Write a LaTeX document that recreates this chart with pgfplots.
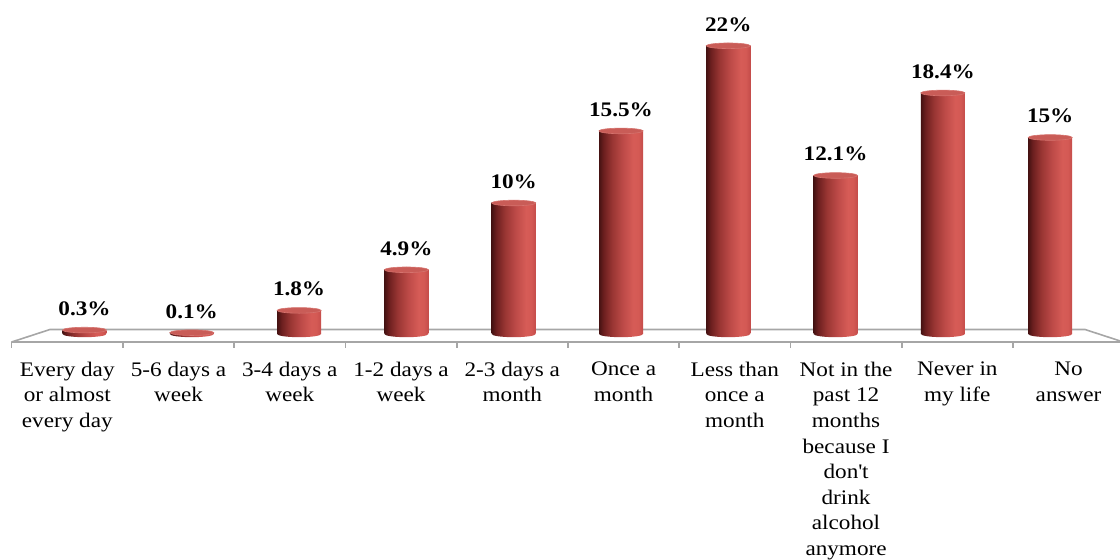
\documentclass[border=0pt]{standalone}
\usepackage{pgfplots}
\usepackage{pgfplotstable}
\pgfplotsset{compat=1.18}
\usepackage{fontspec}
\setmainfont{Liberation Serif}[FakeStretch=1.12]

\newcommand\labelfont{\fontsize{10.35pt}{12.8pt}\selectfont}

% cylinder colours, dark left edge to light right side
\definecolor{cylA}{rgb}{0.27,0.07,0.07}
\definecolor{cylB}{rgb}{0.42,0.12,0.12}
\definecolor{cylC}{rgb}{0.60,0.21,0.20}
\definecolor{cylD}{rgb}{0.74,0.29,0.28}
\definecolor{cylE}{rgb}{0.84,0.36,0.34}
\definecolor{cylF}{rgb}{0.83,0.35,0.33}
\definecolor{cylG}{rgb}{0.77,0.30,0.29}
\definecolor{capred}{rgb}{0.79,0.36,0.34}
\definecolor{capedge}{rgb}{0.84,0.45,0.43}
\definecolor{floorgray}{rgb}{0.65,0.65,0.65}

\pgfdeclarehorizontalshading{cylinder}{100bp}{%
  color(0bp)=(cylA); color(25bp)=(cylA); color(30bp)=(cylB);
  color(40bp)=(cylC); color(52bp)=(cylD); color(64bp)=(cylE);
  color(70bp)=(cylF); color(75bp)=(cylG); color(100bp)=(cylG)}

% top face of a cylinder
\pgfdeclareplotmark{cyltop}{%
  \pgfpathellipse{\pgfpointorigin}{\pgfqpoint{11pt}{0pt}}{\pgfqpoint{0pt}{1.4pt}}%
  \pgfusepathqfillstroke}
% rounded foot of a cylinder
\pgfdeclareplotmark{cylbase}{%
  \pgfpathellipse{\pgfpointorigin}{\pgfqpoint{11pt}{0pt}}{\pgfqpoint{0pt}{1.6pt}}%
  \pgfshadepath{cylinder}{0}\pgfusepath{discard}}

\pgfplotstableread{
x v
0 0.3
1 0.1
2 1.8
3 4.9
4 10
5 15.5
6 22
7 12.1
8 18.4
9 15
}\freqdata

\begin{document}
\begin{tikzpicture}
\begin{axis}[
  scale only axis, width=560pt, height=280pt,
  xmin=-0.7875, xmax=9.6505, ymin=-17.252, ymax=25.496,
  clip=false,
  axis line style={draw=none},
  major tick length=0pt,
  ytick=\empty,
  xtick={-0.1603,0.8765,1.9133,2.9501,3.9869,5.0238,6.0606,7.0974,8.1342,9.1710},
  xticklabels={
    {Every day\\or almost\\every day},
    {5-6 days a\\week},
    {3-4 days a\\week},
    {1-2 days a\\week},
    {2-3 days a\\month},
    {Once a\\month},
    {Less than\\once a\\month},
    {Not in the\\past 12\\months\\because I\\don\textquotesingle t\\drink\\alcohol\\anymore},
    {Never in\\my life},
    {No\\answer}},
  xticklabel style={anchor=north, inner sep=0pt, align=center, yshift=99.25pt, font=\labelfont},
  /pgf/number format/assume math mode=true,
]
\coordinate (bbsw) at (rel axis cs:0,0);
\coordinate (bbne) at (rel axis cs:1,1);

% floor of the 3-D plot area
\draw[floorgray, line width=0.8pt, line join=round]
  (axis cs:-0.6785,-0.611) -- (axis cs:-0.3215,0.344) -- (axis cs:9.324,0.344)
  -- (axis cs:9.681,-0.611) -- cycle;
\pgfplotsinvokeforeach{-0.6785,0.3583,1.3951,2.4319,3.4688,4.5056,5.5424,6.5792,7.6160,8.6528}{
  \draw[floorgray, line width=0.8pt] (axis cs:#1,-0.611) -- (axis cs:#1,-1.069);
}

\addplot[only marks, mark=cylbase] table[x=x, y expr=0] {\freqdata};
% one plot per cylinder so that each body gets its own shading
\pgfplotsinvokeforeach{0,...,9}{
  \addplot[ybar, bar width=22pt, bar shift=0pt, draw=none, shading=cylinder,
    x filter/.expression={x==#1 ? x : nan},
    nodes near coords={\pgfmathprintnumber{\pgfplotspointmeta}\%},
    nodes near coords style={font=\bfseries\labelfont, anchor=base, yshift=7.25pt, inner sep=0pt, text=black}]
    table[x=x, y=v] {\freqdata};
}
\addplot[only marks, mark=cyltop, mark options={fill=capred, draw=capedge, line width=0.3pt}]
  table[x=x, y=v] {\freqdata};
\end{axis}
\pgfresetboundingbox
\useasboundingbox (bbsw) rectangle (bbne);
\end{tikzpicture}
\end{document}
